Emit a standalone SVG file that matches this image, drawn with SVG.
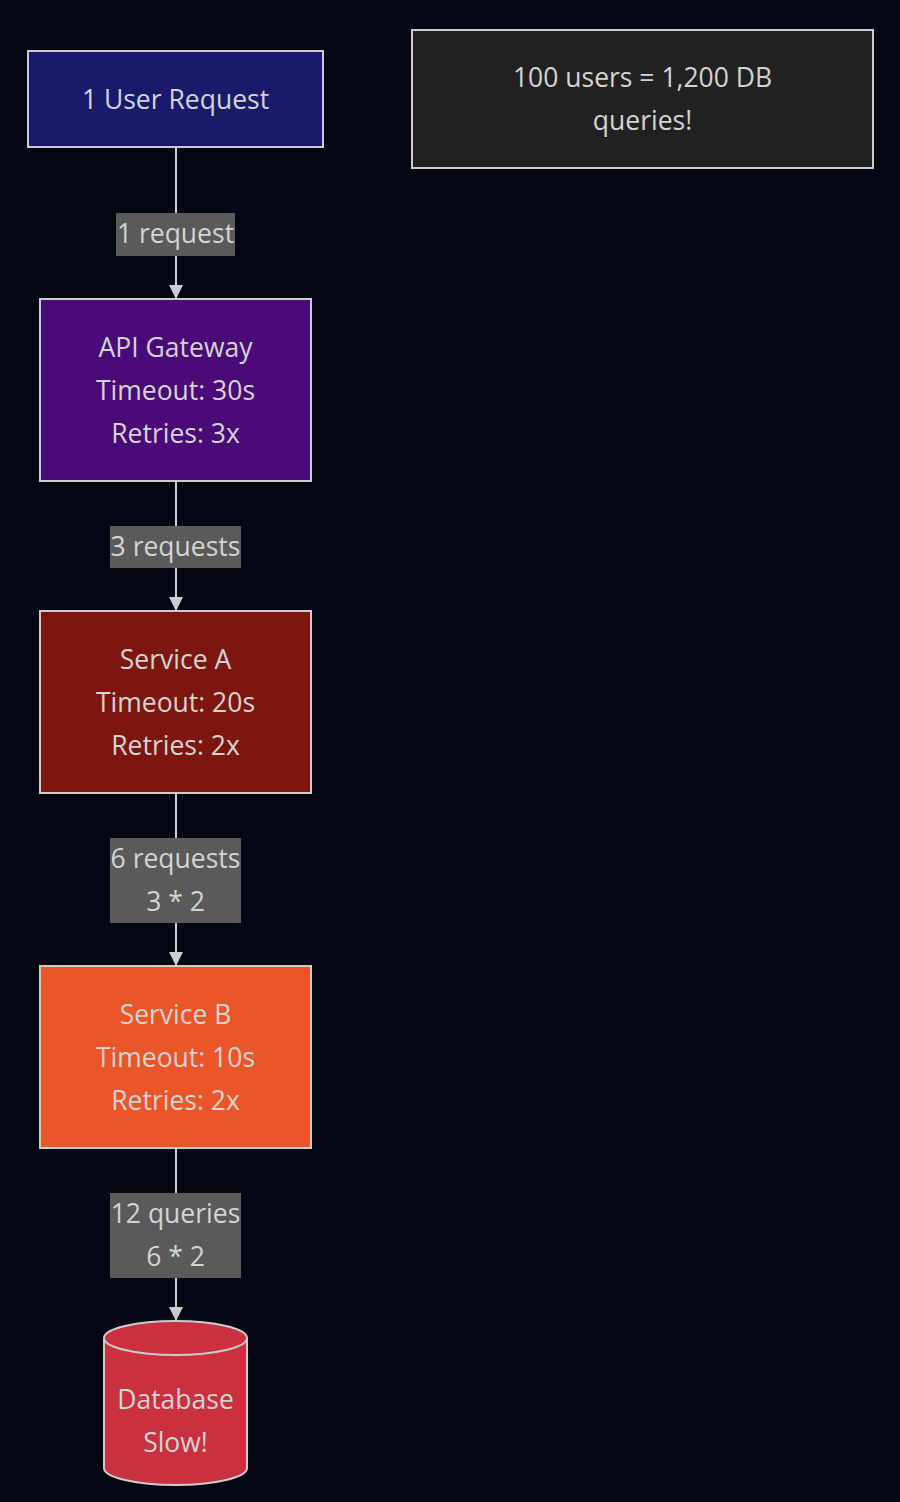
<svg xmlns="http://www.w3.org/2000/svg" width="900" height="1502" viewBox="0 0 900 1502">
<defs>
<style>
text{font-family:"Open Sans","Liberation Sans",sans-serif;font-size:26.5px;fill:#d4d4d4;text-anchor:middle;dominant-baseline:central}
.node{stroke:#cccccc;stroke-width:2}
.lbl{fill:#5a5a5a}
.edge{stroke:#cccccc;stroke-width:2;fill:none}
</style>
<marker id="arr" viewBox="0 0 10 10" refX="10" refY="5" markerWidth="14" markerHeight="14" markerUnits="userSpaceOnUse" orient="auto">
<path d="M0,0 L10,5 L0,10 z" fill="#cccccc"/>
</marker>
</defs>
<rect width="900" height="1502" fill="#030814"/>
<g id="connectors">
<path class="edge" d="M176,147 V299" marker-end="url(#arr)"/>
<path class="edge" d="M176,481 V611" marker-end="url(#arr)"/>
<path class="edge" d="M176,793 V966" marker-end="url(#arr)"/>
<path class="edge" d="M176,1148 V1321" marker-end="url(#arr)"/>
<rect class="lbl" x="116" y="213" width="119" height="43"/>
<text x="175.5" y="233">1 request</text>
<rect class="lbl" x="110" y="526" width="131" height="42"/>
<text x="175.5" y="546">3 requests</text>
<rect class="lbl" x="110" y="838" width="131" height="85"/>
<text x="175.5" y="858">6 requests</text>
<text x="175.5" y="901">3 * 2</text>
<rect class="lbl" x="110" y="1193" width="131" height="85"/>
<text x="175.5" y="1213">12 queries</text>
<text x="175.5" y="1256">6 * 2</text>
</g>
<g id="user">
<rect class="node" x="28" y="51" width="295" height="96" fill="#1a1a6c"/>
<text x="175.5" y="99">1 User Request</text>
</g>
<g id="note">
<rect class="node" x="412" y="30" width="461" height="138" fill="#212121"/>
<text x="642.5" y="77">100 users = 1,200 DB</text>
<text x="642.5" y="120">queries!</text>
</g>
<g id="gateway">
<rect class="node" x="40" y="299" width="271" height="182" fill="#4a0a78"/>
<text x="175.5" y="347">API Gateway</text>
<text x="175.5" y="390">Timeout: 30s</text>
<text x="175.5" y="433">Retries: 3x</text>
</g>
<g id="serviceA">
<rect class="node" x="40" y="611" width="271" height="182" fill="#7e1610"/>
<text x="175.5" y="659">Service A</text>
<text x="175.5" y="702">Timeout: 20s</text>
<text x="175.5" y="745">Retries: 2x</text>
</g>
<g id="serviceB">
<rect class="node" x="40" y="966" width="271" height="182" fill="#eb5629"/>
<text x="175.5" y="1014">Service B</text>
<text x="175.5" y="1057">Timeout: 10s</text>
<text x="175.5" y="1100">Retries: 2x</text>
</g>
<g id="database">
<path class="node" fill="#c93040" d="M104,1338 A71.5,17 0 0 1 247,1338 V1468 A71.5,17 0 0 1 104,1468 Z"/>
<path class="node" fill="none" d="M104,1338 A71.5,17 0 0 0 247,1338"/>
<text x="175.5" y="1399">Database</text>
<text x="175.5" y="1442">Slow!</text>
</g>
</svg>
